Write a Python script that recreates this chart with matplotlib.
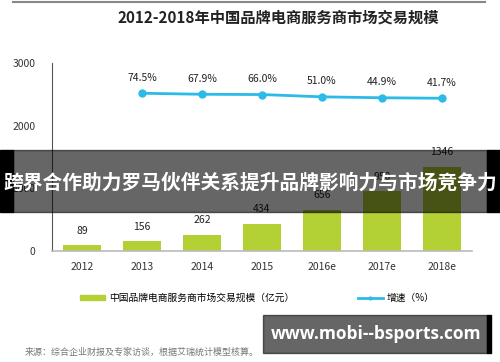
import matplotlib
matplotlib.use('Agg')
import matplotlib.pyplot as plt
from matplotlib.patches import Rectangle
from matplotlib.lines import Line2D

plt.rcParams['font.family'] = ['Noto Sans CJK SC', 'DejaVu Sans']

# --- datos ---
years = ['2012', '2013', '2014', '2015', '2016e', '2017e', '2018e']
scale = [89, 156, 262, 434, 656, 950, 1346]          # 亿元
growth_years = ['2013', '2014', '2015', '2016e', '2017e', '2018e']
growth = [74.5, 67.9, 66.0, 51.0, 44.9, 41.7]         # %
yticks = [0, 1000, 2000, 3000]

bar_color = '#b3d135'
line_color = '#2cbbe8'

fig = plt.figure(figsize=(5, 3.62), dpi=100)
ax = fig.add_axes([0.104, 0.3066, 0.84, 0.5194])

x = list(range(len(years)))
bars = ax.bar(x, scale, width=0.62, color=bar_color, zorder=2)
for xi, v in zip(x, scale):
    ax.text(xi, v + 150, str(v), ha='center', va='bottom', fontsize=7.5, color='#222222')

ax.set_xlim(-0.5, len(years) - 0.5)
ax.set_ylim(0, 3000)
ax.set_yticks(yticks)
ax.set_yticklabels([str(t) for t in yticks], fontsize=7.5, color='#333333')
ax.set_xticks(x)
ax.set_xticklabels(years, fontsize=7.5, color='#333333')
ax.tick_params(length=0, pad=8)
ax.tick_params(axis='y', pad=12)
for s in ['top', 'right']:
    ax.spines[s].set_visible(False)
ax.spines['left'].set_color('#555555')
ax.spines['left'].set_linewidth(0.8)
ax.spines['bottom'].set_color('#bbbbbb')
ax.spines['bottom'].set_linewidth(1.2)

# --- línea de crecimiento (eje secundario oculto) ---
ax2 = ax.twinx()
gx = [years.index(g) for g in growth_years]
ax2.plot(gx, growth, color=line_color, linewidth=2, marker='o', markersize=5, zorder=3)
for xi, v in zip(gx, growth):
    ax2.text(xi, v + 70, f'{v:.1f}%', ha='center', va='bottom', fontsize=7.5, color='#222222')
ax2.set_ylim(-960, 273)
ax2.axis('off')

# --- título y textos ---
fig.text(0.557, 1 - 18 / 362, '2012-2018年中国品牌电商服务商市场交易规模',
         ha='center', va='center', fontsize=11, fontweight='bold', color='#222222')
fig.add_artist(Line2D([13 / 500, 485 / 500], [1 - 1.5 / 362, 1 - 1.5 / 362],
                      color='#888888', linewidth=1.5))

handles = [Rectangle((0, 0), 1, 1, color=bar_color),
           Line2D([0], [0], color=line_color, linewidth=2, marker='o', markersize=2)]
fig.legend(handles, ['中国品牌电商服务商市场交易规模（亿元）', '增速（%）'],
           loc='center', bbox_to_anchor=(0.515, 1 - 298 / 362), ncol=2, frameon=False,
           fontsize=7, handlelength=2.6, handleheight=0.5, handletextpad=0.4,
           columnspacing=6.5)

fig.text(25 / 500, 1 - 352 / 362, '来源：综合企业财报及专家访谈，根据艾瑞统计模型核算。',
         ha='left', va='center', fontsize=6.5, color='#777777')

# --- bandas superpuestas ---
fig.add_artist(Rectangle((0, 1 - 212 / 362), 13 / 500, 62 / 362,
                         transform=fig.transFigure, color='black', zorder=10))
fig.add_artist(Rectangle((487 / 500, 1 - 212 / 362), 13 / 500, 62 / 362,
                         transform=fig.transFigure, color='black', zorder=10))
fig.add_artist(Rectangle((13 / 500, 1 - 212 / 362), 474 / 500, 62 / 362,
                         transform=fig.transFigure, color='black', alpha=0.6, zorder=10))
fig.text(0.5, 1 - 183 / 362, '跨界合作助力罗马伙伴关系提升品牌影响力与市场竞争力',
         ha='center', va='center', fontsize=14.2, fontweight='bold', color='white', zorder=11)

fig.add_artist(Rectangle((263 / 500, 1 - 353 / 362), 224 / 500, 38 / 362,
                         transform=fig.transFigure, color='black', alpha=0.6, zorder=10))
fig.add_artist(Rectangle((487 / 500, 1 - 353 / 362), 4 / 500, 38 / 362,
                         transform=fig.transFigure, color='black', zorder=10))
fig.text(376 / 500, 1 - 334 / 362, 'www.mobi--bsports.com', ha='center', va='center',
         fontsize=12.5, fontweight='bold', color='white', family=['Open Sans', 'DejaVu Sans'],
         zorder=11)

fig.savefig('out.png', dpi=100)
